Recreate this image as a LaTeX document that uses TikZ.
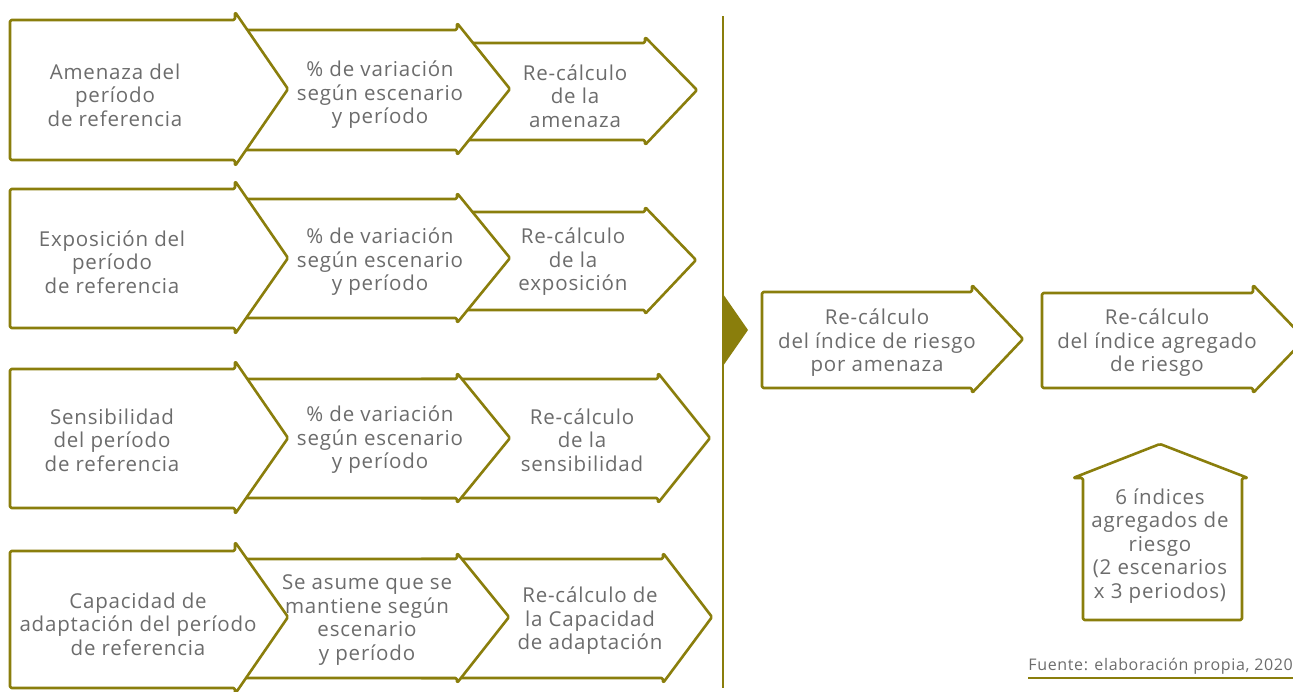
\documentclass[tikz,border=0pt]{standalone}
\usepackage{fontspec}
\setmainfont{Open Sans}[LetterSpace=4]
\definecolor{olive}{RGB}{138,126,12}
\definecolor{txt}{RGB}{108,108,108}
\newcommand{\arrowshape}[9]{%
  % #1 left, #2 top, #3 bottom, #4 shoulder x, #5 spike top, #6 spike bottom, #7 point x, #8 mid y, #9 name
  \draw[arrowbox] (#1,#2) -- (#4,#2) -- (#4,#5) -- (#7,#8) -- (#4,#6) -- (#4,#3) -- (#1,#3) -- cycle;
  \coordinate (#9) at ({(#1+#4)/2},#8);
}
\tikzset{
  arrowbox/.style={draw=olive, fill=white, line width=2.6pt, line join=round, rounded corners=1.5pt},
  lbl/.style={text=txt, align=center, font=\fontsize{20.5}{23.5}\selectfont, inner sep=0pt},
}
\begin{document}
\begin{tikzpicture}[x=1pt,y=-1pt]
\useasboundingbox (0,0) rectangle (1293,691);
% Row 1
\arrowshape{420}{43}{140}{645}{37}{145}{697}{90}{r1c}
\arrowshape{200}{30}{150}{457}{23}{155}{510}{89}{r1b}
\arrowshape{10}{20}{160}{235}{12}{166}{288}{89}{r1a}
\node[lbl] (t1a) at (115,95) {Amenaza del\\período\\de referencia};
\node[lbl] (t1b) at (380,95) {\% de variación\\según escenario\\y período};
\node[lbl] (t1c) at (575,96) {Re-cálculo\\de la\\amenaza};
% Row 2
\arrowshape{420}{212}{310}{645}{207}{314}{696}{260}{r2c}
\arrowshape{200}{199}{318}{457}{193}{323}{510}{258}{r2b}
\arrowshape{10}{189}{328}{235}{181}{334}{288}{258}{r2a}
\node[lbl] (t2a) at (112,262) {Exposición del\\período\\de referencia};
\node[lbl] (t2b) at (380,262) {\% de variación\\según escenario\\y período};
\node[lbl] (t2c) at (573,262) {Re-cálculo\\de la\\exposición};
% Row 3
\arrowshape{420}{379}{498}{658}{373}{503}{710}{438}{r3c}
\arrowshape{200}{379}{498}{457}{373}{503}{510}{438}{r3b}
\arrowshape{10}{369}{508}{235}{361}{514}{288}{438}{r3a}
\node[lbl] (t3a) at (112,440) {Sensibilidad\\del período\\de referencia};
\node[lbl] (t3b) at (380,440) {\% de variación\\según escenario\\y período};
\node[lbl] (t3c) at (582,440) {Re-cálculo\\de la\\sensibilidad};
% Row 4
\arrowshape{420}{559}{678}{663}{553}{683}{712}{617}{r4c}
\arrowshape{200}{559}{678}{457}{553}{683}{509}{617}{r4b}
\arrowshape{10}{551}{688}{235}{542}{694}{288}{617}{r4a}
\node[lbl] (t4a) at (138,624) {Capacidad de\\adaptación del período\\de referencia};
\node[lbl] (t4b) at (367,620) {Se asume que se\\mantiene según\\escenario\\y período};
\node[lbl] (t4c) at (590,621) {Re-cálculo de\\la Capacidad\\de adaptación};
% Divider and triangle
\coordinate (vtop) at (723,16);
\coordinate (vbot) at (723,688);
\draw[olive, line width=2.6pt] (vtop) -- (vbot);
\fill[olive] (723,294) -- (748,330) -- (723,366) -- cycle;
% Right side arrows
\arrowshape{762}{292}{388}{972}{285}{393}{1023}{339}{ra}
\arrowshape{1042}{293}{388}{1253}{285}{393}{1305}{339}{rb}
\node[lbl] (tra) at (877,343) {Re-cálculo\\del índice de riesgo\\por amenaza};
\node[lbl] (trb) at (1157,343) {Re-cálculo\\del índice agregado\\de riesgo};
% House
\draw[arrowbox] (1083,620) -- (1083,478) -- (1073,478) -- (1160,444) -- (1248,478) -- (1242,478) -- (1242,620) -- cycle;
\node[lbl] (thouse) at (1160,546) {6 índices\\agregados de\\riesgo\\(2 escenarios\\x 3 periodos)};
% Footer
\node[text=txt, font=\fontsize{16}{18}\selectfont, anchor=base east, inner sep=0pt] (src) at (1293,670) {Fuente: elaboración propia, 2020};
\draw[olive, line width=1.4pt] (src.south west |- 0,678) -- (1293,678);
\end{tikzpicture}
\end{document}
